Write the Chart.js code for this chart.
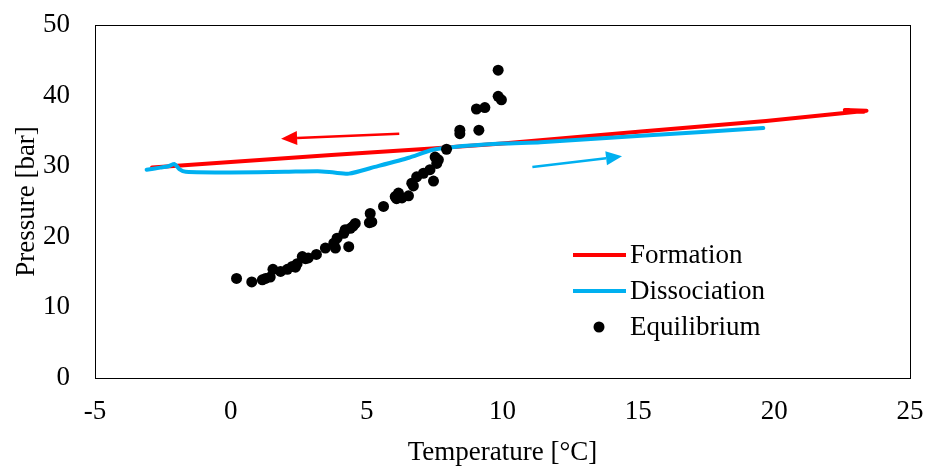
<!DOCTYPE html>
<html>
<head>
<meta charset="utf-8">
<script src="https://cdn.jsdelivr.net/npm/chart.js@4/dist/chart.umd.min.js"></script>
<style>
html,body{margin:0;padding:0;background:#fff;}
#wrap{width:928px;height:466px;}
</style>
</head>
<body>
<div id="wrap"><canvas id="c" width="928" height="466"></canvas></div>
<script>
// Formation (red) curve: temperature [°C], pressure [bar]
const formationT = [-2.9, 0.0, 3.7, 7.4, 10.0, 15.1, 19.7, 22.5, 23.4, 22.6, 23.3, 22.7];
const formationP = [29.8, 30.6, 31.6, 32.5, 33.2, 34.9, 36.4, 37.5, 37.85, 37.95, 37.7, 37.75];
// Dissociation (blue) curve
const dissocT = [-3.1, -2.6, -2.3, -2.07, -1.9, -1.66, 0.0, 2.0, 3.2, 3.8, 4.35, 5.3, 6.55, 7.4, 8.13, 10.0, 11.4, 15.1, 19.6];
const dissocP = [29.5, 29.8, 30.0, 30.3, 29.6, 29.2, 29.1, 29.2, 29.3, 29.1, 28.95, 29.9, 31.2, 32.3, 32.7, 33.2, 33.4, 34.3, 35.4];
// Equilibrium points
const eqT = [0.21,0.77,1.16,1.28,1.45,1.55,1.83,2.08,2.26,2.38,2.44,2.63,2.75,2.85,3.15,3.48,3.79,3.85,3.91,4.16,4.21,4.34,4.40,4.58,4.50,5.13,5.19,5.10,5.62,6.05,6.17,6.10,6.30,6.54,6.66,6.72,6.84,7.09,7.33,7.46,7.58,7.64,7.52,7.94,8.43,8.43,9.13,9.04,9.35,9.84,9.96,9.84];
const eqP = [14.1,13.6,13.9,14.1,14.3,15.4,15.1,15.4,15.8,15.7,16.2,17.2,16.9,17.0,17.5,18.4,19.1,18.4,19.8,20.5,21.0,18.6,21.2,21.9,21.5,23.3,22.1,22.0,24.3,25.7,26.2,25.4,25.5,25.8,27.6,27.2,28.5,29.0,29.5,27.9,30.4,30.9,31.3,32.4,35.1,34.6,35.1,38.1,38.3,39.9,39.4,43.6];
// Arrows: [tailT, tailP, headT, headP]
const formationArrow = [6.2, 34.6, 1.85, 33.9];
const dissocArrow = [11.1, 29.9, 14.4, 31.4];
// Axis ticks
const xTicks = [-5, 0, 5, 10, 15, 20, 25];
const yTicks = [0, 10, 20, 30, 40, 50];
const seriesNames = ['Formation', 'Dissociation', 'Equilibrium'];

const RED = '#FF0000', BLUE = '#00B0F0', FONT = "'Liberation Serif', 'Times New Roman', serif";
const pts = (xs, ys) => xs.map((x, i) => ({x, y: ys[i]}));

const decor = {
  id: 'decor',
  afterDatasetsDraw(chart) {
    const {ctx, chartArea: a, scales: {x, y}} = chart;
    ctx.save();
    // plot border
    ctx.strokeStyle = '#000'; ctx.lineWidth = 1;
    ctx.strokeRect(Math.round(a.left) + 0.5, Math.round(a.top) + 0.5, Math.round(a.right - a.left), Math.round(a.bottom - a.top));
    // arrows
    const arrow = (arr, col) => {
      const x0 = x.getPixelForValue(arr[0]), y0 = y.getPixelForValue(arr[1]);
      const x1 = x.getPixelForValue(arr[2]), y1 = y.getPixelForValue(arr[3]);
      const ang = Math.atan2(y1 - y0, x1 - x0), L = 16, W = 7;
      const bx = x1 - L * Math.cos(ang), by = y1 - L * Math.sin(ang);
      ctx.strokeStyle = col; ctx.fillStyle = col; ctx.lineWidth = 2.5;
      ctx.beginPath(); ctx.moveTo(x0, y0); ctx.lineTo(bx, by); ctx.stroke();
      ctx.beginPath(); ctx.moveTo(x1, y1);
      ctx.lineTo(bx + W * Math.sin(ang), by - W * Math.cos(ang));
      ctx.lineTo(bx - W * Math.sin(ang), by + W * Math.cos(ang));
      ctx.closePath(); ctx.fill();
    };
    arrow(formationArrow, RED);
    arrow(dissocArrow, BLUE);
    // legend
    const lx = a.left + 478, ly = a.top + 230, gap = 36;
    ctx.font = '27px ' + FONT; ctx.textBaseline = 'middle'; ctx.fillStyle = '#000';
    [[RED, 'line'], [BLUE, 'line'], ['#000', 'dot']].forEach((s, i) => {
      const yy = ly + i * gap;
      if (s[1] === 'line') {
        ctx.strokeStyle = s[0]; ctx.lineWidth = 4;
        ctx.beginPath(); ctx.moveTo(lx, yy); ctx.lineTo(lx + 53, yy); ctx.stroke();
      } else {
        ctx.fillStyle = s[0]; ctx.beginPath(); ctx.arc(lx + 26, yy, 5.5, 0, Math.PI * 2); ctx.fill();
      }
      ctx.fillStyle = '#000';
      ctx.fillText(seriesNames[i], lx + 57, yy + 1);
    });
    ctx.restore();
  }
};

new Chart(document.getElementById('c'), {
  type: 'line',
  data: {
    datasets: [
      {label: seriesNames[2], type: 'scatter', data: pts(eqT, eqP), showLine: false, pointRadius: 5.5, pointHoverRadius: 5.5, backgroundColor: '#000', borderColor: '#000', borderWidth: 0, order: 0},
      {label: seriesNames[1], data: pts(dissocT, dissocP), borderColor: BLUE, borderWidth: 4, pointRadius: 0, tension: 0.2, borderCapStyle: 'round', borderJoinStyle: 'round', fill: false, order: 1},
      {label: seriesNames[0], data: pts(formationT, formationP), borderColor: RED, borderWidth: 4, pointRadius: 0, tension: 0, borderCapStyle: 'round', borderJoinStyle: 'round', fill: false, order: 2}
    ]
  },
  options: {
    responsive: false,
    animation: false,
    layout: {padding: {top: 25, right: 18, left: 0, bottom: 0}},
    plugins: {legend: {display: false}, tooltip: {enabled: false}},
    scales: {
      x: {
        type: 'linear', min: -5, max: 25,
        afterBuildTicks: s => { s.ticks = xTicks.map(v => ({value: v})); },
        afterFit: s => { s.height = 88; s.paddingLeft = 0; s.paddingRight = 0; },
        grid: {display: false, drawTicks: false},
        border: {display: true, color: '#000'},
        ticks: {color: '#000', font: {family: FONT, size: 27}, padding: 18},
        title: {display: true, text: 'Temperature [°C]', color: '#000', font: {family: FONT, size: 27, lineHeight: 1.0}, padding: {top: 0, bottom: 0}}
      },
      y: {
        type: 'linear', min: 0, max: 50,
        afterBuildTicks: s => { s.ticks = yTicks.map(v => ({value: v})); },
        afterFit: s => { s.width = 95; s.paddingTop = 0; s.paddingBottom = 0; },
        grid: {display: false, drawTicks: false},
        border: {display: true, color: '#000'},
        ticks: {color: '#000', font: {family: FONT, size: 27}, padding: 25},
        title: {display: true, text: 'Pressure [bar]', color: '#000', font: {family: FONT, size: 27}, padding: {top: 11, bottom: 0}}
      }
    }
  },
  plugins: [decor]
});
</script>
</body>
</html>
